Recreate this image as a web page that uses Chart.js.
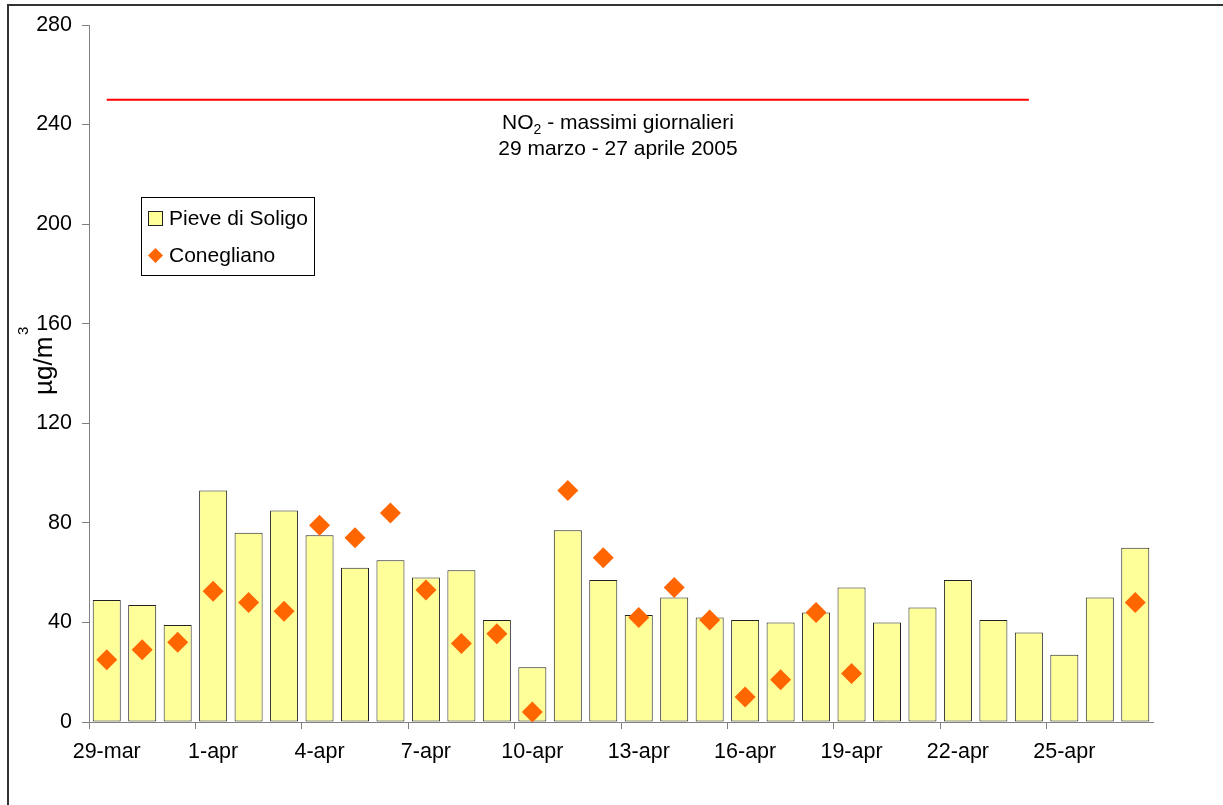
<!DOCTYPE html>
<html>
<head>
<meta charset="utf-8">
<script src="https://cdn.jsdelivr.net/npm/chart.js@4.4.1/dist/chart.umd.min.js"></script>
<style>
  html, body { margin: 0; padding: 0; background: #fff; }
  #wrap { position: relative; width: 1223px; height: 805px; }
</style>
</head>
<body>
<div id="wrap"><canvas id="c" width="1223" height="805"></canvas></div>
<script>
// ---- data ----
const days = ['29-mar','30-mar','31-mar','1-apr','2-apr','3-apr','4-apr','5-apr','6-apr','7-apr',
  '8-apr','9-apr','10-apr','11-apr','12-apr','13-apr','14-apr','15-apr','16-apr','17-apr',
  '18-apr','19-apr','20-apr','21-apr','22-apr','23-apr','24-apr','25-apr','26-apr','27-apr'];
const pieveDiSoligo = [49, 47, 39, 93, 76, 85, 75, 62, 65, 58,
  61, 41, 22, 77, 57, 43, 50, 42, 41, 40,
  44, 54, 40, 46, 57, 41, 36, 27, 50, 70];
const conegliano = [25, 29, 32, 52.5, 48, 44.5, 79, 74, 84, 53,
  31.5, 35.5, 4, 93, 66, 42, 54, 41, 10, 17,
  44, 19.5, null, null, null, null, null, null, null, 48];
const limitLine = [250, 250, 250, 250, 250, 250, 250, 250, 250, 250,
  250, 250, 250, 250, 250, 250, 250, 250, 250, 250,
  250, 250, 250, 250, 250, 250, 250, null, null, null];
const yTicks = [0, 40, 80, 120, 160, 200, 240, 280];
const seriesNames = ['Pieve di Soligo', 'Conegliano'];
const titleLine1 = ['NO', '2', ' - massimi giornalieri'];
const titleLine2 = '29 marzo - 27 aprile 2005';
const yUnit = ['µ', 'g/m', '3'];

const FONT = "'Liberation Sans', Arial, sans-serif";
const BAR_FILL = '#FFFF99';
const DIAMOND = '#FF6600';
const AXIS = '#808080';

const overlay = {
  id: 'overlay',
  afterDraw(chart) {
    const ctx = chart.ctx;
    ctx.save();
    // outer frame
    ctx.strokeStyle = '#333';
    ctx.lineWidth = 2;
    ctx.strokeRect(8, 5, 1400, 1000);

    // title
    ctx.fillStyle = '#000';
    ctx.textBaseline = 'alphabetic';
    ctx.textAlign = 'left';
    const big = '21px ' + FONT, small = '14px ' + FONT;
    ctx.font = big; const w0 = ctx.measureText(titleLine1[0]).width;
    ctx.font = small; const w1 = ctx.measureText(titleLine1[1]).width;
    ctx.font = big; const w2 = ctx.measureText(titleLine1[2]).width;
    const cx = 618;
    let x = cx - (w0 + w1 + w2) / 2;
    ctx.font = big; ctx.fillText(titleLine1[0], x, 129);
    ctx.font = small; ctx.fillText(titleLine1[1], x + w0, 134);
    ctx.font = big; ctx.fillText(titleLine1[2], x + w0 + w1, 129);
    ctx.textAlign = 'center';
    ctx.fillText(titleLine2, cx, 155);

    // y axis unit label (rotated)
    ctx.save();
    ctx.translate(52, 395);
    ctx.rotate(-Math.PI / 2);
    ctx.textAlign = 'left';
    ctx.font = '26px ' + FONT;
    const u0 = ctx.measureText(yUnit[0]).width;
    ctx.fillText(yUnit[0], 0, 0);
    const u1 = ctx.measureText(yUnit[1]).width;
    ctx.fillText(yUnit[1], u0, 0);
    ctx.font = '15px ' + FONT;
    ctx.fillText(yUnit[2], 60, -24);
    ctx.restore();

    // legend
    ctx.fillStyle = '#fff';
    ctx.fillRect(141, 197, 173, 78);
    ctx.strokeStyle = '#000';
    ctx.lineWidth = 1;
    ctx.strokeRect(141.5, 197.5, 173, 78);
    ctx.fillStyle = BAR_FILL;
    ctx.fillRect(148.5, 211.5, 14, 14);
    ctx.strokeStyle = '#222';
    ctx.strokeRect(148.5, 211.5, 14, 14);
    ctx.fillStyle = DIAMOND;
    ctx.beginPath();
    ctx.moveTo(155.5, 248); ctx.lineTo(163, 255.5); ctx.lineTo(155.5, 263); ctx.lineTo(148, 255.5);
    ctx.closePath(); ctx.fill();
    ctx.fillStyle = '#000';
    ctx.font = '21px ' + FONT;
    ctx.textAlign = 'left';
    ctx.fillText(seriesNames[0], 169, 225);
    ctx.fillText(seriesNames[1], 169, 262);
    ctx.restore();
  }
};

new Chart(document.getElementById('c'), {
  type: 'bar',
  data: {
    labels: days,
    datasets: [
      {
        type: 'line',
        label: 'limit',
        data: limitLine,
        borderColor: '#FF0000',
        borderWidth: 2,
        pointRadius: 0,
        fill: false,
        spanGaps: false,
        order: 2
      },
      {
        type: 'line',
        label: seriesNames[1],
        data: conegliano,
        showLine: false,
        pointStyle: 'rectRot',
        pointRadius: 10.5,
        pointBackgroundColor: DIAMOND,
        pointBorderColor: DIAMOND,
        pointBorderWidth: 0,
        order: 1
      },
      {
        type: 'bar',
        label: seriesNames[0],
        data: pieveDiSoligo,
        backgroundColor: BAR_FILL,
        borderColor: '#222',
        borderWidth: 1,
        borderSkipped: false,
        barPercentage: 0.79,
        categoryPercentage: 1.0,
        order: 3
      }
    ]
  },
  options: {
    responsive: false,
    animation: false,
    events: [],
    layout: { padding: { top: 25, right: 70, left: 0, bottom: 0 } },
    plugins: { legend: { display: false }, tooltip: { enabled: false }, title: { display: false } },
    scales: {
      x: {
        type: 'category',
        offset: true,
        grid: {
          offset: true,
          drawOnChartArea: false,
          drawTicks: true,
          tickLength: 7,
          tickColor: (c) => (c.index % 3 === 0 ? AXIS : 'rgba(0,0,0,0)')
        },
        border: { color: AXIS, width: 1 },
        ticks: {
          autoSkip: false,
          maxRotation: 0,
          minRotation: 0,
          padding: 10,
          color: '#000',
          font: { family: FONT, size: 21.5 },
          callback: (v, i) => (i % 3 === 0 ? days[i] : '')
        },
        afterFit: (s) => { s.height = 83; }
      },
      y: {
        min: 0,
        max: 280,
        afterBuildTicks: (s) => { s.ticks = yTicks.map(v => ({ value: v })); },
        grid: { drawOnChartArea: false, drawTicks: true, tickLength: 7, tickColor: AXIS },
        border: { color: AXIS, width: 1 },
        ticks: { padding: 10, color: '#000', font: { family: FONT, size: 21.5 } },
        afterFit: (s) => { s.width = 89; }
      }
    }
  },
  plugins: [overlay]
});
</script>
</body>
</html>
